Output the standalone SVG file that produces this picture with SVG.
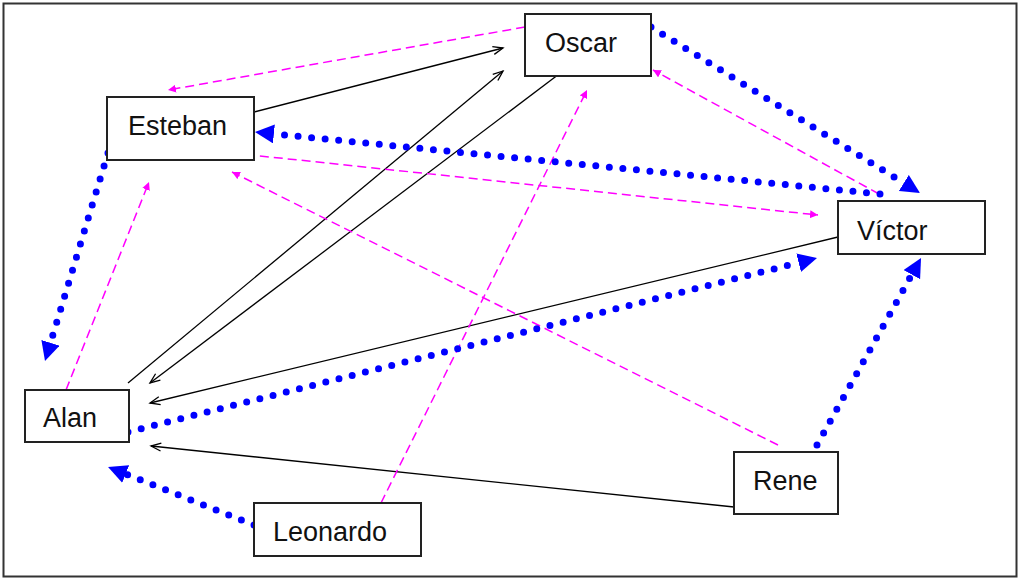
<svg xmlns="http://www.w3.org/2000/svg" width="1019" height="579" viewBox="0 0 1019 579">
<style>
.node rect{fill:#fff;stroke:#222;stroke-width:2}
.node text{font-family:"Liberation Sans",Arial,sans-serif;font-size:27px;fill:#111}
.solid{stroke:#000;stroke-width:1.3;fill:none}
.dot{stroke:#0000FF;stroke-width:7;stroke-linecap:round;stroke-dasharray:0 13.6;fill:none}
.dash{stroke:#FF00FF;stroke-width:1.5;stroke-dasharray:9 5;fill:none}
</style>
<defs>
<marker id="mb" markerUnits="userSpaceOnUse" markerWidth="20" markerHeight="20" refX="0" refY="9.5" orient="auto" viewBox="0 0 20 20">
<path d="M0,0 L19,9.5 L0,19 z" fill="#0000FF"/>
</marker>
<marker id="mk" markerUnits="userSpaceOnUse" markerWidth="12" markerHeight="10" refX="10" refY="4" orient="auto" viewBox="0 0 12 10" overflow="visible">
<path d="M0,0 L10,4 L0,8" fill="none" stroke="#000" stroke-width="1.3"/>
</marker>
<marker id="mm" markerUnits="userSpaceOnUse" markerWidth="10" markerHeight="10" refX="8" refY="4" orient="auto" viewBox="0 0 10 10">
<path d="M0,0 L8,4 L0,8 z" fill="#FF00FF"/>
</marker>
</defs>
<rect x="3.5" y="3.5" width="1013" height="573" fill="#fff" stroke="#333" stroke-width="2"/>
<g id="connectors">
<line class="solid" x1="254" y1="112" x2="503" y2="48" marker-end="url(#mk)"/>
<line class="solid" x1="128" y1="383" x2="503" y2="71" marker-end="url(#mk)"/>
<line class="solid" x1="567" y1="68" x2="150" y2="383" marker-end="url(#mk)"/>
<line class="solid" x1="838" y1="237" x2="150" y2="403" marker-end="url(#mk)"/>
<line class="solid" x1="734" y1="507" x2="151" y2="446" marker-end="url(#mk)"/>
<line class="dash" x1="525" y1="27" x2="168" y2="90" marker-end="url(#mm)"/>
<line class="dash" x1="66" y1="390" x2="149" y2="182" marker-end="url(#mm)"/>
<line class="dash" x1="381" y1="503" x2="587" y2="90" marker-end="url(#mm)"/>
<line class="dash" x1="879" y1="194" x2="653" y2="70" marker-end="url(#mm)"/>
<line class="dash" x1="232" y1="153" x2="818" y2="215" marker-end="url(#mm)"/>
<line class="dash" x1="778" y1="445" x2="232" y2="172" marker-end="url(#mm)"/>
<line class="dot" x1="651" y1="27" x2="903.8" y2="183" marker-end="url(#mb)"/>
<line class="dot" x1="880" y1="194" x2="273.9" y2="133.9" marker-end="url(#mb)"/>
<line class="dot" x1="108" y1="153" x2="50.5" y2="342.8" marker-end="url(#mb)"/>
<line class="dot" x1="128" y1="432" x2="798.6" y2="262.7" marker-end="url(#mb)"/>
<line class="dot" x1="817" y1="445" x2="911.8" y2="274.6" marker-end="url(#mb)"/>
<line class="dot" x1="254" y1="525" x2="125.7" y2="474" marker-end="url(#mb)"/>
</g>
<g id="oscar" class="node"><rect x="525" y="14" width="126" height="62"/><text x="545" y="52">Oscar</text></g>
<g id="esteban" class="node"><rect x="107" y="97" width="147" height="63"/><text x="128" y="135">Esteban</text></g>
<g id="victor" class="node"><rect x="838" y="201" width="147" height="53"/><text x="857" y="240">Víctor</text></g>
<g id="alan" class="node"><rect x="25" y="390" width="104" height="52"/><text x="43" y="427">Alan</text></g>
<g id="leonardo" class="node"><rect x="254" y="503" width="167" height="53"/><text x="273" y="541">Leonardo</text></g>
<g id="rene" class="node"><rect x="734" y="452" width="104" height="62"/><text x="753" y="490">Rene</text></g>
</svg>
